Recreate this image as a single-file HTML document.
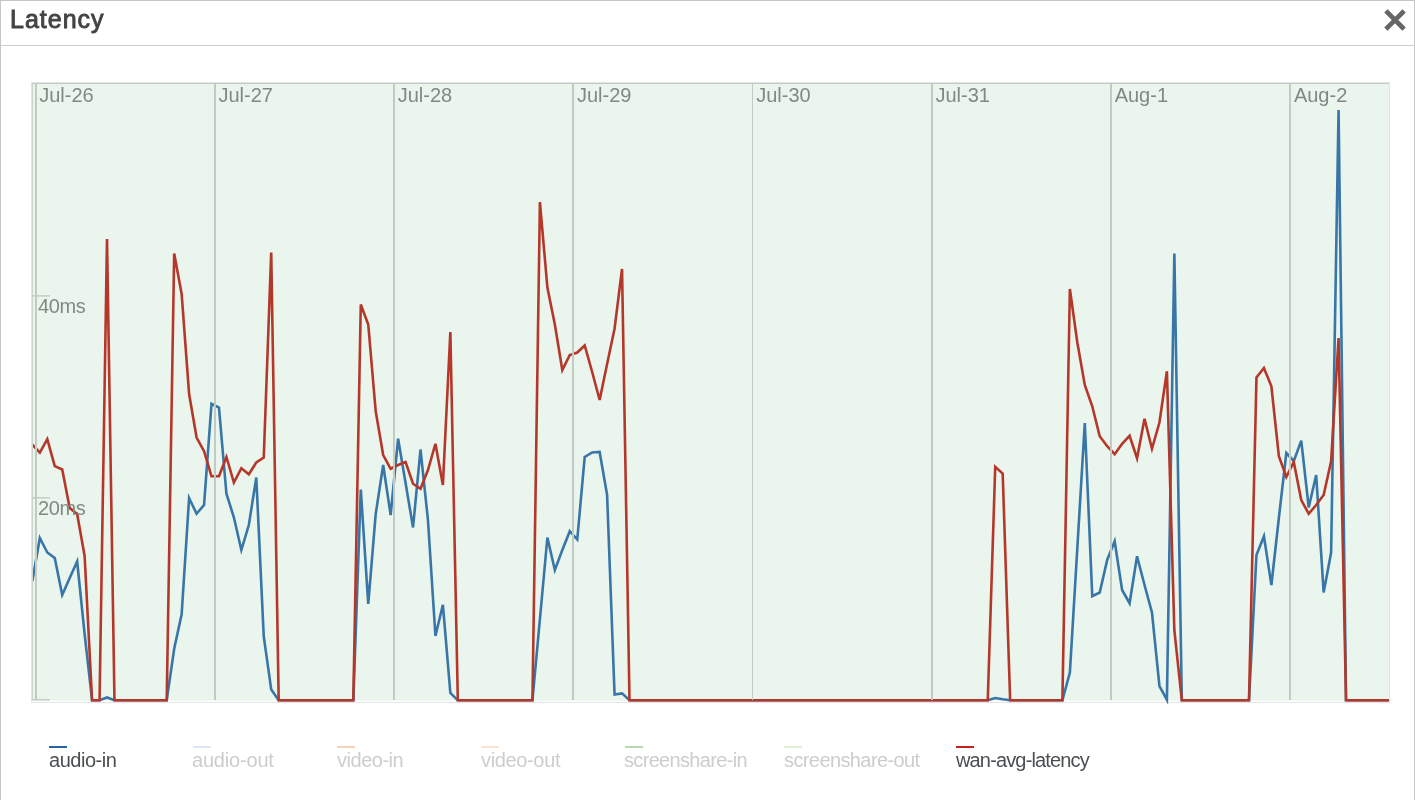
<!DOCTYPE html>
<html><head><meta charset="utf-8"><style>
html,body{margin:0;padding:0;background:#fff;width:1415px;height:800px;overflow:hidden}
body{position:relative;font-family:"Liberation Sans",sans-serif;-webkit-font-smoothing:antialiased}
svg,.title,.li{will-change:transform}
.modal{position:absolute;left:0;top:0;width:1413px;height:820px;border:1px solid #c6c6c6;background:#fff}
.hdr{position:absolute;left:0;top:0;width:1413px;height:44px;border-bottom:1px solid #cfcfcf}
.title{position:absolute;left:8.6px;top:2.2px;font-size:25px;font-weight:normal;color:#444;line-height:32px;letter-spacing:1px;-webkit-text-stroke:0.9px #444}
.close{position:absolute;left:1383.3px;top:8px;width:22px;height:22px}
svg.chart{position:absolute;left:0;top:0}
.li{position:absolute;top:746px;height:30px}
.sw{position:absolute;left:0;top:0;width:18px;height:2px}
.li span{position:absolute;left:0;top:3px;font-size:20px;line-height:22px;white-space:nowrap}
</style></head><body>
<div class="modal">
<div class="hdr"><div class="title">Latency</div>
<svg class="close" viewBox="0 0 22 22"><path d="M3.5 3.5 L18.5 18.5 M18.5 3.5 L3.5 18.5" stroke="#666" stroke-width="4.6" stroke-linecap="square"/></svg>
</div>
</div>
<svg class="chart" width="1415" height="800" viewBox="0 0 1415 800">
<defs><clipPath id="cp"><rect x="32" y="83" width="1357" height="622"/></clipPath></defs>
<rect x="31.5" y="82.5" width="1358" height="620" fill="none" stroke="#e4e4e4" stroke-width="1"/>
<rect x="32" y="83" width="1357" height="617.6" fill="#eaf5ed"/>
<g clip-path="url(#cp)" fill="none" stroke-width="2.6" stroke-linejoin="miter" stroke-miterlimit="4">
<path d="M32.37,581.00 L39.83,538.00 L47.30,552.50 L54.76,558.00 L62.23,595.00 L69.69,578.00 L77.15,561.50 L84.62,634.00 L92.08,700.30 L99.55,700.30 L107.01,697.50 L114.47,700.30 L166.72,700.30 L174.19,648.80 L181.65,614.20 L189.11,498.00 L196.58,513.75 L204.04,505.00 L211.51,403.75 L218.97,407.50 L226.43,493.75 L233.90,517.50 L241.36,550.00 L248.83,525.00 L256.29,477.50 L263.75,636.50 L271.22,689.60 L278.68,700.30 L353.32,700.30 L360.79,489.50 L368.25,604.00 L375.71,514.00 L383.18,465.00 L390.64,515.00 L398.11,438.75 L405.57,483.00 L413.03,527.50 L420.50,449.50 L427.96,520.00 L435.43,636.00 L442.89,604.80 L450.35,692.90 L457.82,700.30 L532.46,700.30 L539.92,619.00 L547.39,537.50 L554.85,570.00 L562.31,550.00 L569.78,531.25 L577.24,539.50 L584.71,457.00 L592.17,452.50 L599.63,452.00 L607.10,495.00 L614.56,694.60 L622.03,693.40 L629.49,700.30 L987.76,700.30 L995.23,698.00 L1002.69,699.30 L1010.15,700.30 L1062.40,700.30 L1069.87,672.50 L1077.33,548.00 L1084.79,423.00 L1092.26,596.25 L1099.72,592.50 L1107.19,560.00 L1114.65,541.25 L1122.11,590.00 L1129.58,603.25 L1137.04,556.25 L1144.51,585.00 L1151.97,612.50 L1159.43,686.00 L1166.90,699.70 L1174.36,253.50 L1181.83,700.30 L1249.00,700.30 L1256.47,555.00 L1263.93,536.25 L1271.39,585.00 L1278.86,518.00 L1286.32,453.00 L1293.79,461.00 L1301.25,440.60 L1308.71,507.50 L1316.18,475.00 L1323.64,592.50 L1331.11,552.50 L1338.57,110.00 L1346.03,700.30 L1390.82,700.30" stroke="#3876a8"/>
<path d="M32.37,444.75 L39.83,452.60 L47.30,439.10 L54.76,466.10 L62.23,469.50 L69.69,508.00 L77.15,514.00 L84.62,556.00 L92.08,700.30 L99.55,700.30 L107.01,239.00 L114.47,700.30 L166.72,700.30 L174.19,253.50 L181.65,294.00 L189.11,394.00 L196.58,437.50 L204.04,451.25 L211.51,476.25 L218.97,476.25 L226.43,457.00 L233.90,482.50 L241.36,468.25 L248.83,474.25 L256.29,462.50 L263.75,457.50 L271.22,252.50 L278.68,700.30 L353.32,700.30 L360.79,304.50 L368.25,324.50 L375.71,411.25 L383.18,455.00 L390.64,468.75 L398.11,465.00 L405.57,462.00 L413.03,483.75 L420.50,488.75 L427.96,470.00 L435.43,443.75 L442.89,485.00 L450.35,332.00 L457.82,700.30 L532.46,700.30 L539.92,202.00 L547.39,287.50 L554.85,324.50 L562.31,370.00 L569.78,355.00 L577.24,352.50 L584.71,345.50 L592.17,372.00 L599.63,400.00 L607.10,364.00 L614.56,328.75 L622.03,269.00 L629.49,700.30 L987.76,700.30 L995.23,466.80 L1002.69,473.50 L1010.15,700.30 L1062.40,700.30 L1069.87,289.00 L1077.33,342.50 L1084.79,385.00 L1092.26,406.25 L1099.72,436.25 L1107.19,446.25 L1114.65,454.25 L1122.11,443.75 L1129.58,435.75 L1137.04,458.25 L1144.51,418.75 L1151.97,448.75 L1159.43,422.50 L1166.90,371.25 L1174.36,630.50 L1181.83,700.30 L1249.00,700.30 L1256.47,377.50 L1263.93,368.00 L1271.39,386.25 L1278.86,456.25 L1286.32,476.90 L1293.79,461.90 L1301.25,500.00 L1308.71,513.75 L1316.18,505.00 L1323.64,495.00 L1331.11,461.25 L1338.57,338.00 L1346.03,700.30 L1390.82,700.30" stroke="#b5372a"/>
</g>
<g fill="#c2cac2">
<rect x="32" y="83" width="1357" height="1"/>
<rect x="32" y="83" width="1" height="617" fill="#ccd4cc"/>
<rect x="35" y="83" width="2" height="617" /><rect x="214" y="83" width="2" height="617" /><rect x="393" y="83" width="2" height="617" /><rect x="572" y="83" width="2" height="617" /><rect x="752" y="83" width="1" height="617" /><rect x="931" y="83" width="2" height="617" /><rect x="1110" y="83" width="2" height="617" /><rect x="1289" y="83" width="2" height="617" />
<rect x="32" y="295.2" width="18" height="1.4"/><rect x="32" y="497.1" width="18" height="1.4"/><rect x="32" y="699.1" width="18" height="1.4"/>
</g>
<g font-size="20" fill="#7f8a82"><text x="39.17" y="102">Jul-26</text><text x="218.42" y="102">Jul-27</text><text x="397.67" y="102">Jul-28</text><text x="576.92" y="102">Jul-29</text><text x="756.17" y="102">Jul-30</text><text x="935.42" y="102">Jul-31</text><text x="1114.67" y="102">Aug-1</text><text x="1293.92" y="102">Aug-2</text>
<text x="38" y="313" letter-spacing="-0.4">40ms</text><text x="38" y="515" letter-spacing="-0.4">20ms</text>
</g>
</svg>
<div class="li" style="left:49px"><div class="sw" style="background:#2563a6"></div><span style="left:0px;color:#4a4f52;letter-spacing:-0.47px">audio-in</span></div><div class="li" style="left:193px"><div class="sw" style="background:#dde6f4"></div><span style="left:-1px;color:#cbcdce;letter-spacing:-0.19px">audio-out</span></div><div class="li" style="left:337px"><div class="sw" style="background:#f9d2b8"></div><span style="left:0px;color:#cbcdce;letter-spacing:-0.48px">video-in</span></div><div class="li" style="left:481px"><div class="sw" style="background:#fbe5d0"></div><span style="left:0px;color:#cbcdce;letter-spacing:-0.35px">video-out</span></div><div class="li" style="left:625px"><div class="sw" style="background:#b7d9ad"></div><span style="left:-1px;color:#cbcdce;letter-spacing:-0.67px">screenshare-in</span></div><div class="li" style="left:784px"><div class="sw" style="background:#dff0d3"></div><span style="left:0px;color:#cbcdce;letter-spacing:-0.60px">screenshare-out</span></div><div class="li" style="left:956px"><div class="sw" style="background:#c42020"></div><span style="left:0px;color:#4a4f52;letter-spacing:-0.85px">wan-avg-latency</span></div>
</body></html>
